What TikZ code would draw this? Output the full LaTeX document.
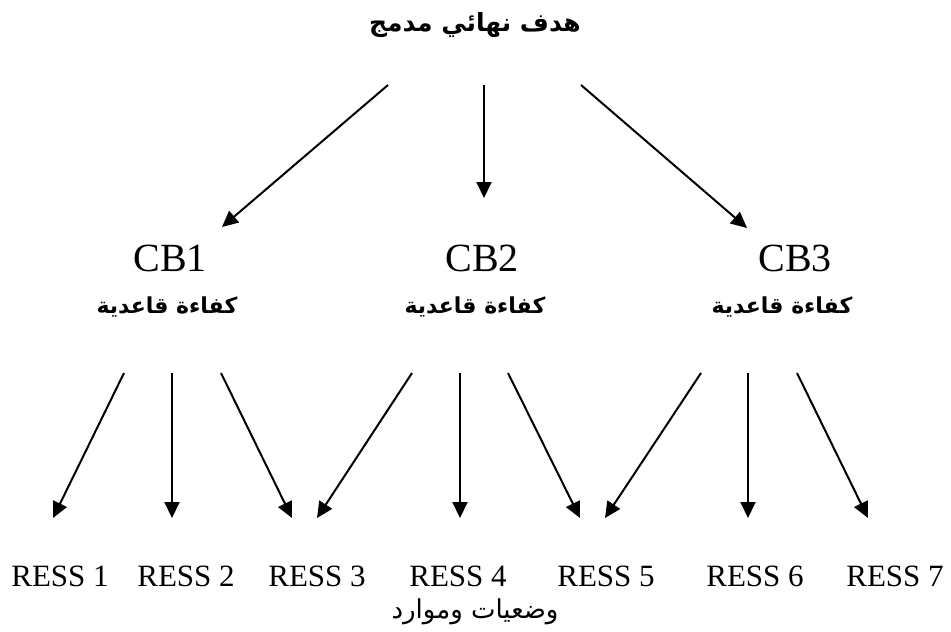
\documentclass[tikz,border=0pt]{standalone}
\usepackage{fontspec}
\usetikzlibrary{arrows.meta}
\setmainfont{Liberation Serif}
\newfontfamily\arabicfont[Script=Arabic]{DejaVu Sans}
\TeXXeTstate=1
\begin{document}
\begin{tikzpicture}[x=1pt,y=-1pt,
  arr/.style={line width=2pt,-{Triangle[length=16pt,width=15pt]}},
  latin/.style={inner sep=0pt,font=\fontsize{40}{44}\selectfont},
  ress/.style={inner sep=0pt,font=\fontsize{31}{35}\selectfont},
  arlabel/.style={inner sep=0pt,font=\arabicfont\bfseries\fontsize{22}{27}\selectfont},
  artitle/.style={inner sep=0pt,font=\arabicfont\bfseries\fontsize{25}{30}\selectfont},
  arplain/.style={inner sep=0pt,font=\arabicfont\fontsize{26}{31}\selectfont}]
\useasboundingbox (0,0) rectangle (951,632);

% top goal
\node[artitle] (goal) at (475,25) {\beginR هدف نهائي مدمج\endR};

% basic competences
\node[latin] (cb1) at (170,258) {CB1};
\node[latin] (cb2) at (482,258) {CB2};
\node[latin] (cb3) at (795,258) {CB3};
\node[arlabel] (k1) at (167,307) {\beginR كفاءة قاعدية\endR};
\node[arlabel] (k2) at (475,307) {\beginR كفاءة قاعدية\endR};
\node[arlabel] (k3) at (782,307) {\beginR كفاءة قاعدية\endR};

% resources
\node[ress] (r1) at (60,576) {RESS 1};
\node[ress] (r2) at (186,576) {RESS 2};
\node[ress] (r3) at (317,576) {RESS 3};
\node[ress] (r4) at (458,576) {RESS 4};
\node[ress] (r5) at (606,576) {RESS 5};
\node[ress] (r6) at (755,576) {RESS 6};
\node[ress] (r7) at (895,576) {RESS 7};
\node[arplain] (sit) at (475,612) {\beginR وضعيات وموارد\endR};

% arrow end points
\coordinate (g1) at (388,85);
\coordinate (g2) at (484,85);
\coordinate (g3) at (581,85);
\coordinate (t1) at (222,227);
\coordinate (t2) at (484,198);
\coordinate (t3) at (747,228);

\coordinate (a1) at (124,373);
\coordinate (a2) at (172,373);
\coordinate (a3) at (221,373);
\coordinate (b1) at (412,373);
\coordinate (b2) at (460,373);
\coordinate (b3) at (508,373);
\coordinate (c1) at (701,373);
\coordinate (c2) at (748,373);
\coordinate (c3) at (797,373);

\coordinate (e1) at (53,518);
\coordinate (e2) at (172,518);
\coordinate (e3a) at (292,518);
\coordinate (e3b) at (317,518);
\coordinate (e4) at (460,518);
\coordinate (e5a) at (580,518);
\coordinate (e5b) at (605,518);
\coordinate (e6) at (748,518);
\coordinate (e7) at (868,518);

\draw[arr] (g1) -- (t1);
\draw[arr] (g2) -- (t2);
\draw[arr] (g3) -- (t3);

\draw[arr] (a1) -- (e1);
\draw[arr] (a2) -- (e2);
\draw[arr] (a3) -- (e3a);
\draw[arr] (b1) -- (e3b);
\draw[arr] (b2) -- (e4);
\draw[arr] (b3) -- (e5a);
\draw[arr] (c1) -- (e5b);
\draw[arr] (c2) -- (e6);
\draw[arr] (c3) -- (e7);
\end{tikzpicture}
\end{document}
